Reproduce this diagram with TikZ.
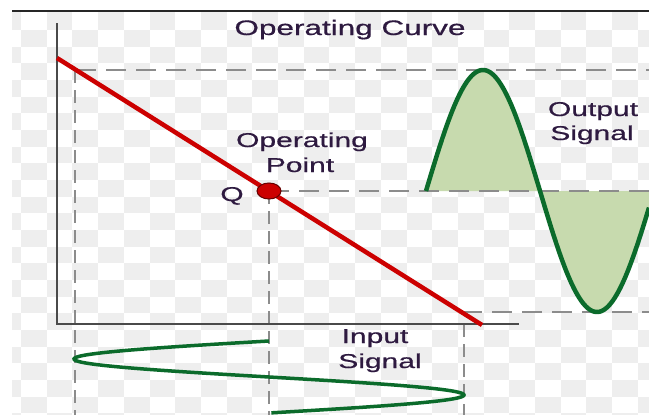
\documentclass[tikz,border=0pt]{standalone}
\usepackage{graphicx}
\usepackage{fontspec}
\setmainfont{Liberation Sans}
\newfontfamily\lblfont{Liberation Sans}[FakeBold=0.5]
\usetikzlibrary{shapes.geometric}
\definecolor{chk}{HTML}{EEEEEE}
\definecolor{axisc}{HTML}{4A4A4A}
\definecolor{dashc}{HTML}{8C8C8C}
\definecolor{redl}{HTML}{CC0000}
\definecolor{sig}{HTML}{0B6B2B}
\definecolor{sigfill}{HTML}{C7DAAE}
\definecolor{txt}{HTML}{2E1A40}
\begin{document}
\begin{tikzpicture}[x=1pt,y=-1pt,
  hdash/.style={dashc,line width=2pt,dash pattern=on 20pt off 10pt},
  vdash/.style={dashc,line width=2pt,dash pattern=on 13pt off 7pt},
  lbl/.style={inner sep=0pt,anchor=base,text=txt,font=\lblfont\fontsize{20}{24}\selectfont},
  sigline/.style={sig,line width=#1},
  sigline/.default=4.5pt]
\useasboundingbox (0,0) rectangle (649,415);
\fill[white] (0,0) rectangle (649,415);
% checkerboard background
\begin{scope}
\clip (12,12) rectangle (649,415);
\foreach \i in {-1,...,24}{\foreach \j in {1,...,25}{%
  \pgfmathtruncatemacro\p{mod(\i+\j+100,2)}%
  \ifnum\p=0
    \pgfmathsetmacro\xa{21+25.7*\i}%
    \pgfmathsetmacro\ya{ifthenelse(\j==1,11,13.33+16.67*(\j-1))}%
    \pgfmathsetmacro\xb{21+25.7*(\i+1)}%
    \pgfmathsetmacro\yb{13.33+16.67*\j}%
    \fill[chk] (\xa,\ya) rectangle (\xb,\yb);
  \fi}}
\end{scope}
\draw[line width=1.5pt,black!85] (12,11) -- (649,11);
% coordinates
\coordinate (ytop) at (57,23);
\coordinate (orig) at (57,324);
\coordinate (xend) at (519,324);
\coordinate (rA) at (57,58);
\coordinate (rB) at (482,325);
\coordinate (Q) at (269,191);
\coordinate (topL) at (76,70);
\coordinate (topR) at (649,70);
\coordinate (midR) at (649,191);
\coordinate (botL) at (462,312);
\coordinate (botR) at (649,312);
\coordinate (v1a) at (75,70);
\coordinate (v1b) at (75,415);
\coordinate (v2b) at (269,415);
\coordinate (v3a) at (464,324);
\coordinate (v3b) at (464,415);
% output signal fill
\fill[sigfill] (426,191) -- plot[domain=0:223,samples=150] ({426+\x},{191-121*sin(1.578947*\x)}) -- (midR) -- cycle;
% dashed guides
\draw[hdash] (topL) -- (topR);
\draw[hdash] (Q) -- (midR);
\draw[hdash] (botL) -- (botR);
\draw[vdash] (v1a) -- (v1b);
\draw[vdash] (Q) -- (v2b);
\draw[vdash] (v3a) -- (v3b);
% axes
\draw[axisc,line width=2pt] (ytop) -- (orig) -- (xend);
% operating curve
\draw[redl,line width=4.5pt] (rA) -- (rB);
% signals
\draw[sigline] plot[domain=0:223,samples=150] ({426+\x},{191-121*sin(1.578947*\x)});
\draw[sigline=3.5pt] plot[domain=0:1,samples=150] ({269-195*sin(360*\x)},{341+72*\x});
% Q point
\node[ellipse,draw=black!60!red,fill=redl,line width=1pt,minimum width=24pt,minimum height=16pt,inner sep=0pt] (qdot) at (Q) {};
% labels
\node[lbl,font=\lblfont\fontsize{21}{25}\selectfont] (title) at (350,35) {\scalebox{1.5}[1]{Operating Curve}};
\node[lbl] (op1) at (302,147) {\scalebox{1.5}[1]{Operating}};
\node[lbl] (op2) at (300,172) {\scalebox{1.5}[1]{Point}};
\node[lbl] (qlbl) at (232,201) {\scalebox{1.5}[1]{Q}};
\node[lbl] (out1) at (593,116) {\scalebox{1.5}[1]{Output}};
\node[lbl] (out2) at (592,140) {\scalebox{1.5}[1]{Signal}};
\node[lbl] (in1) at (375,343) {\scalebox{1.5}[1]{Input}};
\node[lbl] (in2) at (380,368) {\scalebox{1.5}[1]{Signal}};
\end{tikzpicture}
\end{document}
